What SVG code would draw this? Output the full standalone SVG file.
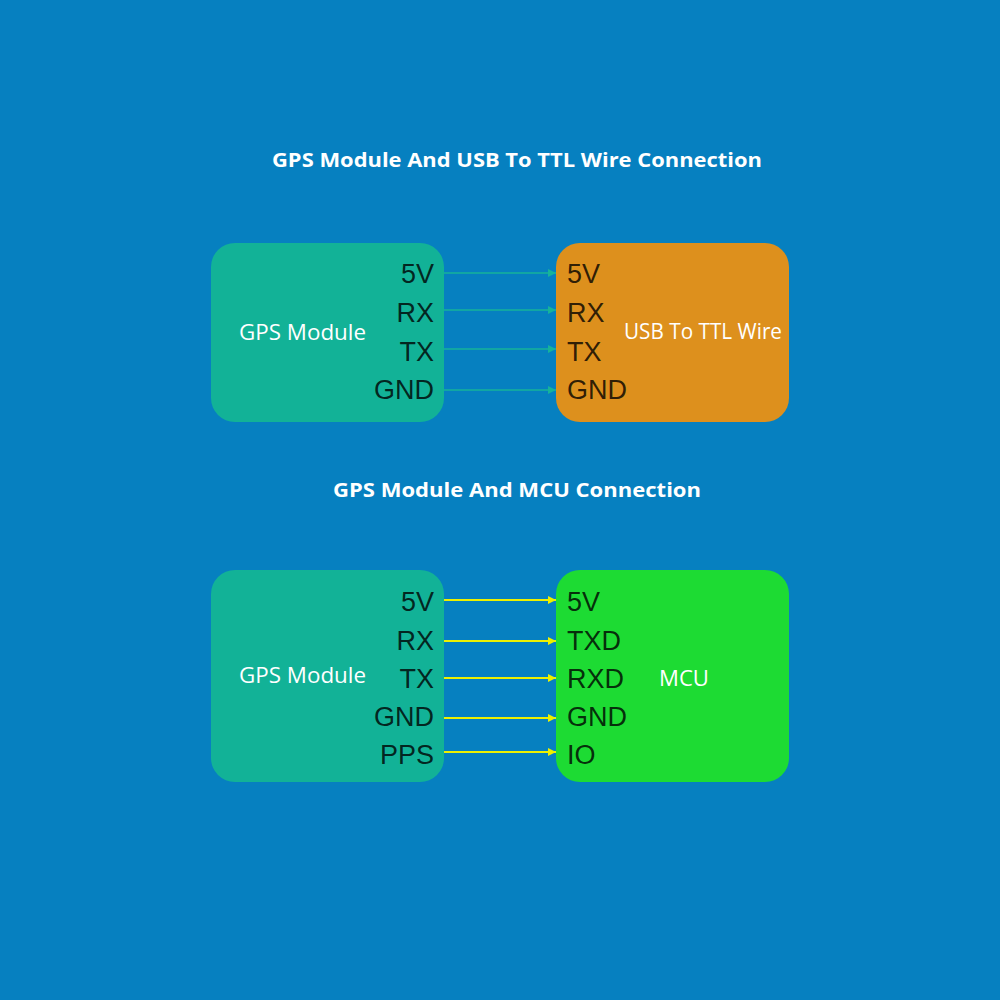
<svg xmlns="http://www.w3.org/2000/svg" width="1000" height="1000" viewBox="0 0 1000 1000">
<defs>
<style>
.title{font-family:"Open Sans","Noto Sans",sans-serif;font-weight:700;font-size:20px;fill:#fff;text-anchor:middle}
.name{font-family:"Open Sans","Noto Sans",sans-serif;font-size:22px;fill:#fff;text-anchor:middle}
.pin{font-family:"Liberation Sans",Arial,sans-serif;font-size:27px;fill:#000;fill-opacity:0.8}
.pl{text-anchor:end}
.w1{stroke:#16b39a;stroke-width:1.5;fill:none}
.w2{stroke:#ecf000;stroke-width:2;fill:none}
</style>
<marker id="a1" viewBox="0 0 10 10" refX="10" refY="5" markerWidth="10" markerHeight="8" markerUnits="userSpaceOnUse" orient="auto"><path d="M0,0 L10,5 L0,10 z" fill="#16b39a"/></marker>
<marker id="a2" viewBox="0 0 10 10" refX="10" refY="5" markerWidth="11" markerHeight="8" markerUnits="userSpaceOnUse" orient="auto"><path d="M0,0 L10,5 L0,10 z" fill="#ecf000"/></marker>
</defs>
<rect width="1000" height="1000" fill="#0680c0"/>
<text class="title" x="517" y="167" textLength="490" lengthAdjust="spacingAndGlyphs">GPS Module And USB To TTL Wire Connection</text>
<text class="title" x="517" y="497" textLength="368" lengthAdjust="spacingAndGlyphs">GPS Module And MCU Connection</text>

<g id="gps1">
<rect x="211" y="243" width="233" height="179" rx="24" fill="#12b297"/>
<text class="name" x="302.5" y="340" textLength="127" lengthAdjust="spacingAndGlyphs">GPS Module</text>
<text class="pin pl" x="434" y="283">5V</text>
<text class="pin pl" x="434" y="322">RX</text>
<text class="pin pl" x="434" y="361">TX</text>
<text class="pin pl" x="434" y="399">GND</text>
</g>
<g id="usbttl">
<rect x="556" y="243" width="233" height="179" rx="24" fill="#dd901d"/>
<text class="name" x="703" y="339" textLength="158" lengthAdjust="spacingAndGlyphs">USB To TTL Wire</text>
<text class="pin" x="567" y="283">5V</text>
<text class="pin" x="567" y="322">RX</text>
<text class="pin" x="567" y="361">TX</text>
<text class="pin" x="567" y="399">GND</text>
</g>
<g id="gps2">
<rect x="211" y="570" width="233" height="212" rx="24" fill="#12b297"/>
<text class="name" x="302.5" y="683" textLength="127" lengthAdjust="spacingAndGlyphs">GPS Module</text>
<text class="pin pl" x="434" y="611">5V</text>
<text class="pin pl" x="434" y="650">RX</text>
<text class="pin pl" x="434" y="688">TX</text>
<text class="pin pl" x="434" y="726">GND</text>
<text class="pin pl" x="434" y="764">PPS</text>
</g>
<g id="mcu">
<rect x="556" y="570" width="233" height="212" rx="24" fill="#1ddb33"/>
<text class="name" x="684" y="686" textLength="50" lengthAdjust="spacingAndGlyphs">MCU</text>
<text class="pin" x="567" y="611">5V</text>
<text class="pin" x="567" y="650">TXD</text>
<text class="pin" x="567" y="688">RXD</text>
<text class="pin" x="567" y="726">GND</text>
<text class="pin" x="567" y="764">IO</text>
</g>
<g id="connectors">
<line class="w1" x1="444" y1="273" x2="556" y2="273" marker-end="url(#a1)"/>
<line class="w1" x1="444" y1="310" x2="556" y2="310" marker-end="url(#a1)"/>
<line class="w1" x1="444" y1="349" x2="556" y2="349" marker-end="url(#a1)"/>
<line class="w1" x1="444" y1="390" x2="556" y2="390" marker-end="url(#a1)"/>
<line class="w2" x1="444" y1="600" x2="556" y2="600" marker-end="url(#a2)"/>
<line class="w2" x1="444" y1="641" x2="556" y2="641" marker-end="url(#a2)"/>
<line class="w2" x1="444" y1="678" x2="556" y2="678" marker-end="url(#a2)"/>
<line class="w2" x1="444" y1="718" x2="556" y2="718" marker-end="url(#a2)"/>
<line class="w2" x1="444" y1="752" x2="556" y2="752" marker-end="url(#a2)"/>
</g>
</svg>
